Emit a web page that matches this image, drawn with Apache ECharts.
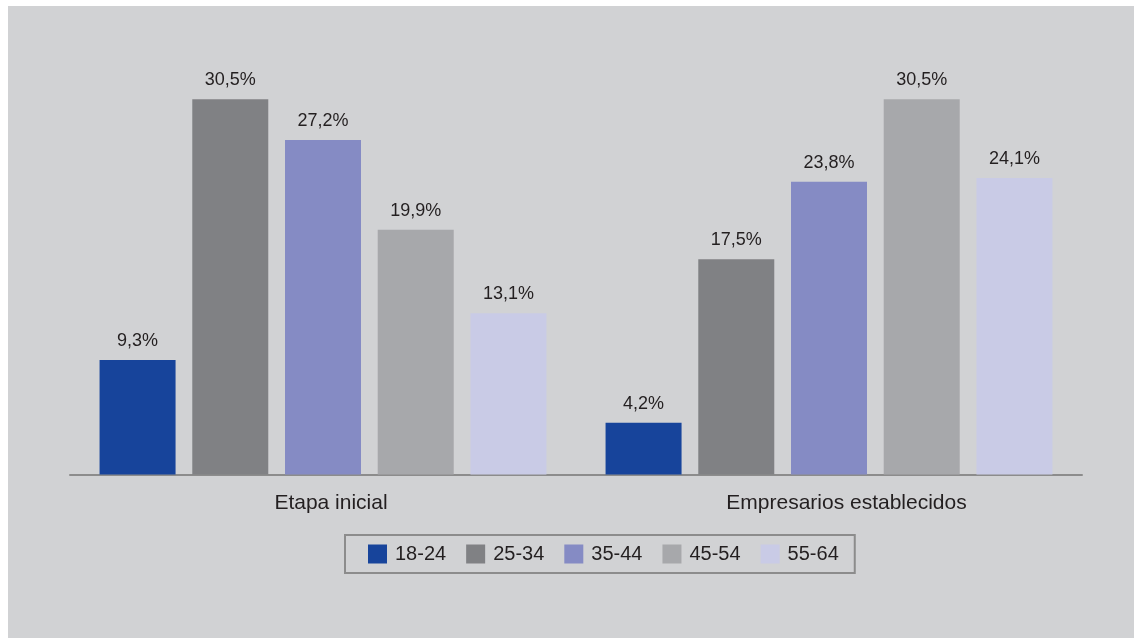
<!DOCTYPE html>
<html>
<head>
<meta charset="utf-8">
<script src="https://cdn.jsdelivr.net/npm/echarts@6/dist/echarts.min.js"></script>
<style>
  html, body { margin: 0; padding: 0; background: #ffffff; width: 1134px; height: 638px; overflow: hidden; }
  #chart { position: absolute; left: 8px; top: 6px; width: 1126px; height: 632px; background: #d1d2d4; }
</style>
</head>
<body>
<div id="chart"></div>
<script>
const categories = ['Etapa inicial', 'Empresarios establecidos'];
const seriesNames = ['18-24', '25-34', '35-44', '45-54', '55-64'];
const v18_24 = [9.3, 4.2];
const v25_34 = [30.5, 17.5];
const v35_44 = [27.2, 23.8];
const v45_54 = [19.9, 30.5];
const v55_64 = [13.1, 24.1];
const colors = ['#17449b', '#808184', '#858bc4', '#a7a8ab', '#c9cbe6'];
const allValues = [v18_24, v25_34, v35_44, v45_54, v55_64];

const chart = echarts.init(document.getElementById('chart'), null, { renderer: 'canvas' });
const FONT = "'Liberation Sans', Arial, Helvetica, sans-serif";

const series = seriesNames.map((name, i) => ({
  name: name,
  type: 'bar',
  data: allValues[i],
  barWidth: 76,
  barGap: '22%',
  itemStyle: { color: colors[i] },
  label: {
    show: true,
    position: 'top',
    distance: 10,
    fontFamily: FONT,
    fontSize: 18,
    color: '#231f20',
    formatter: p => p.value.toFixed(1).replace('.', ',') + '%'
  }
}));

const catLabelStyle = { fontFamily: FONT, fontSize: 21, color: '#231f20' };

chart.setOption({
  animation: false,
  backgroundColor: 'transparent',
  textStyle: { fontFamily: FONT },
  grid: { left: 62, width: 1012, top: 38, bottom: 163.5, containLabel: false },
  xAxis: {
    type: 'category',
    data: categories,
    axisLine: { show: true, lineStyle: { color: '#8c8c8c', width: 2 } },
    axisTick: { show: false },
    axisLabel: {
      fontFamily: FONT, fontSize: 21, color: '#231f20', margin: 18,
      formatter: (v, i) => '{c' + i + '|' + v + '}',
      rich: {
        c0: Object.assign({ padding: [0, 0, 0, 16] }, catLabelStyle),
        c1: Object.assign({ padding: [0, 0, 0, 35] }, catLabelStyle)
      }
    }
  },
  yAxis: {
    type: 'value',
    min: 0,
    max: 35,
    show: false,
    splitLine: { show: false }
  },
  legend: {
    data: seriesNames,
    icon: 'rect',
    left: 337,
    top: 529,
    itemWidth: 19,
    itemHeight: 19,
    itemGap: 20,
    padding: [9, 16, 9, 23],
    borderColor: '#8c8c8c',
    borderWidth: 2,
    textStyle: { fontFamily: FONT, fontSize: 20, color: '#231f20', padding: [0, 0, 0, 3] }
  },
  series: series
});
</script>
</body>
</html>
